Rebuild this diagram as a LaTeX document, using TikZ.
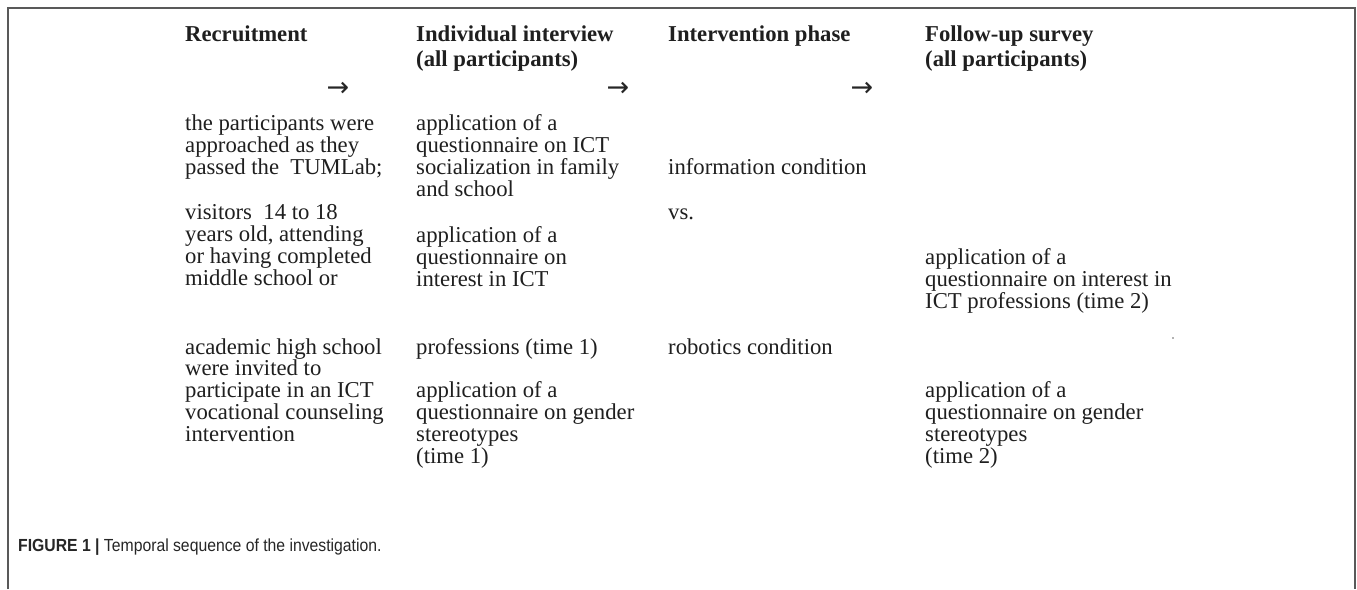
\documentclass[tikz,border=0pt]{standalone}
\usepackage{graphicx}
\usepackage{fontspec}
\setmainfont{Liberation Serif}
\newfontfamily\capfont{Liberation Sans}
\newfontfamily\arrfont{DejaVu Sans}
\begin{document}
\begin{tikzpicture}[x=1pt,y=-1pt,
  txt/.style={anchor=base west,inner sep=0pt,font=\fontsize{22.7}{26}\selectfont,text=black!88},
  hdr/.style={txt,font=\fontsize{22.7}{26}\selectfont\bfseries},
  arr/.style={anchor=center,inner sep=0pt,font=\arrfont\fontsize{27}{27}\selectfont,text=black!85},
  captxt/.style={anchor=base west,inner sep=0pt,font=\capfont\fontsize{17.5}{19}\selectfont,text=black!85},
  frm/.style={line width=1.3pt,draw=black!65}]
\fill[white] (0,0) rectangle (1357,589);
\useasboundingbox (0,0) rectangle (1357,589);
\draw[frm] (8,589) -- (8,8) -- (1355,8) -- (1355,589);
% headers
\node[hdr] (h1) at (185,41) {Recruitment};
\node[hdr] (h2a) at (416,41) {Individual interview};
\node[hdr] (h2b) at (416,66) {(all participants)};
\node[hdr] (h3) at (668,41) {Intervention phase};
\node[hdr] (h4a) at (925,41) {Follow-up survey};
\node[hdr] (h4b) at (925,66) {(all participants)};
% arrows
\node[arr] (a1) at (338,89) {→};
\node[arr] (a2) at (618,89) {→};
\node[arr] (a3) at (862,89) {→};
% column 1
\foreach \t [count=\i] in {the participants were, approached as they, passed the\ \ TUMLab;}
  \node[txt] (c1a\i) at (185,{130+22*(\i-1)}) {\t};
\foreach \t [count=\i] in {visitors\ \ 14 to 18, {years old, attending}, or having completed, middle school or}
  \node[txt] (c1b\i) at (185,{219+22*(\i-1)}) {\t};
\foreach \t [count=\i] in {academic high school, were invited to, participate in an ICT, vocational counseling, intervention}
  \node[txt] (c1c\i) at (185,{354+21.8*(\i-1)}) {\t};
% column 2
\foreach \t [count=\i] in {application of a, questionnaire on ICT, socialization in family, and school}
  \node[txt] (c2a\i) at (416,{130+22*(\i-1)}) {\t};
\foreach \t [count=\i] in {application of a, questionnaire on, interest in ICT}
  \node[txt] (c2b\i) at (416,{242+22*(\i-1)}) {\t};
\node[txt] (c2c1) at (416,354) {professions (time 1)};
\foreach \t [count=\i] in {application of a, questionnaire on gender, stereotypes, (time 1)}
  \node[txt] (c2d\i) at (416,{397+22*(\i-1)}) {\t};
% column 3
\node[txt] (c3a) at (668,174) {information condition};
\node[txt] (c3b) at (668,219) {vs.};
\node[txt] (c3c) at (668,354) {robotics condition};
% column 4
\foreach \t [count=\i] in {application of a, questionnaire on interest in, ICT professions (time 2)}
  \node[txt] (c4a\i) at (925,{264+22*(\i-1)}) {\t};
\foreach \t [count=\i] in {application of a, questionnaire on gender, stereotypes, (time 2)}
  \node[txt] (c4b\i) at (925,{397+22*(\i-1)}) {\t};
\fill[black!60] (1173,338) circle (0.8);
% caption
\node[captxt] (capt) at (18,551) {\scalebox{0.9}[1]{\textbf{FIGURE 1 |} Temporal sequence of the investigation.}};
\end{tikzpicture}
\end{document}
